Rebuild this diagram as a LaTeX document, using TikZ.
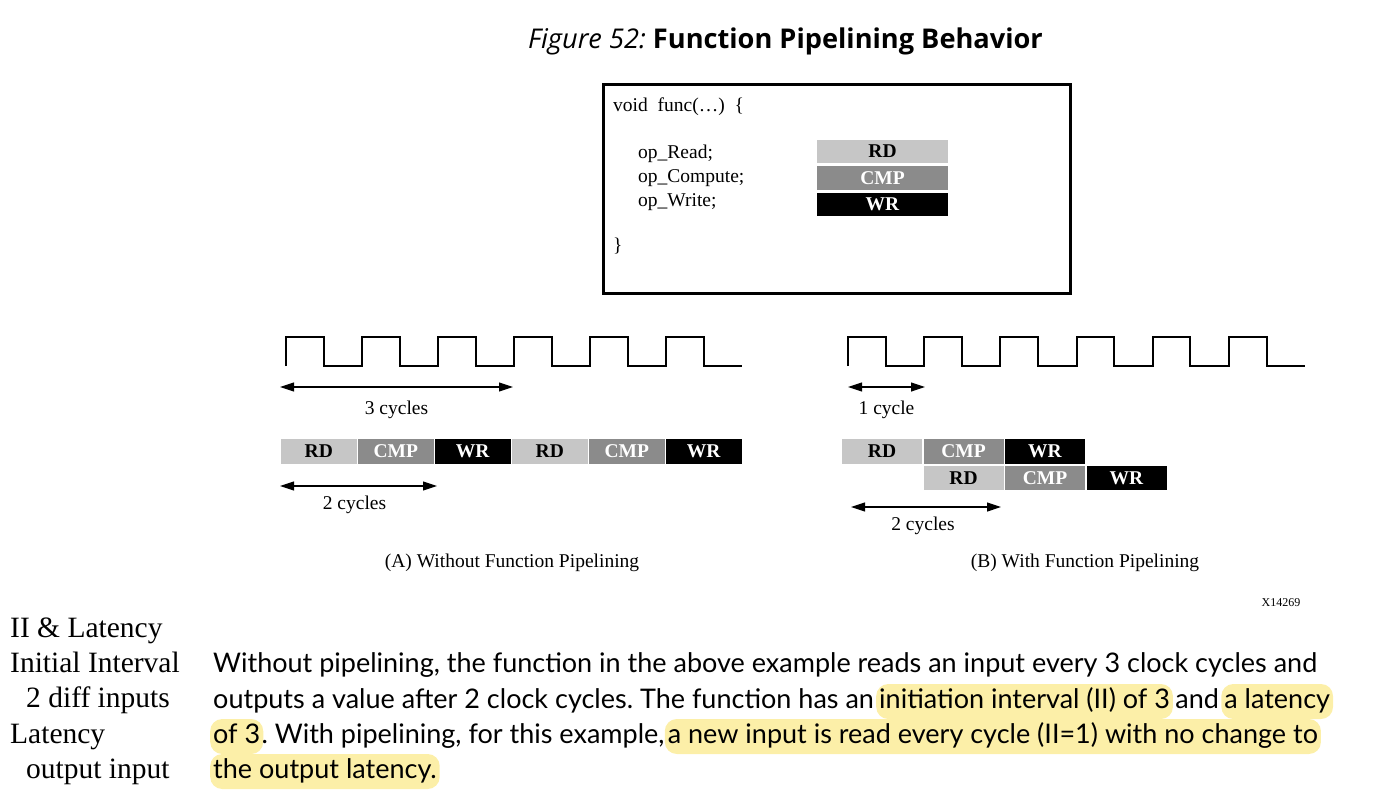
\documentclass[tikz,border=0pt]{standalone}
\usepackage{fontspec}
\setmainfont{Liberation Serif}
\newfontfamily\bodyfont{Lato}
\newfontfamily\titlefont{Open Sans}
\usetikzlibrary{arrows.meta,positioning}
\definecolor{RdGray}{HTML}{C6C6C6}
\definecolor{CmpGray}{HTML}{8B8B8B}
\definecolor{Marker}{HTML}{FCEFA8}
\frenchspacing
\tikzset{
  blk/.style={minimum height=25pt,inner sep=0pt,outer sep=0pt,font=\fontsize{19.5}{19.5}\selectfont\bfseries},
  rdblk/.style={blk,fill=RdGray,text=black},
  cmpblk/.style={blk,fill=CmpGray,text=white},
  wrblk/.style={blk,fill=black,text=white},
  dimarrow/.style={{Triangle[length=14pt,width=9pt]}-{Triangle[length=14pt,width=9pt]},line width=1.1pt},
  clk/.style={line width=2pt},
  lbl/.style={font=\fontsize{19.5}{20}\selectfont,inner sep=0pt},
  codeline/.style={anchor=base west,inner sep=0pt,font=\fontsize{19.5}{20}\selectfont},
  note/.style={anchor=base west,inner sep=0pt,font=\fontsize{29.5}{30}\selectfont},
  txt/.style={anchor=base west,inner xsep=2pt,inner ysep=4pt,text height=20pt,text depth=7pt,
    font=\bodyfont\fontsize{27}{30}\selectfont},
  hl/.style={txt,inner xsep=3pt,fill=Marker,rounded corners=12pt},
}

\begin{document}
\begin{tikzpicture}[x=1pt,y=-1pt]
  \useasboundingbox (0,0) rectangle (1378,796);

  % title
  \node[anchor=base,inner sep=0pt,font=\titlefont\fontsize{27.2}{30}\selectfont] (title) at (785.5,48)
    {\textit{Figure 52:} \textbf{Function Pipelining Behavior}};

  % code box
  \node[draw,line width=3pt,minimum width=467pt,minimum height=209pt,inner sep=0pt] (codebox) at (837,189) {};
  \node[codeline] (c1) at (613,111) {void\ \ func(…)\ \ \{};
  \node[codeline] (c2) at (638,158) {op\_Read;};
  \node[codeline] (c3) at (638,182) {op\_Compute;};
  \node[codeline] (c4) at (638,206) {op\_Write;};
  \node[codeline] (c5) at (613,251) {\}};
  \node[rdblk,minimum width=131pt,minimum height=23.5pt] (cRD) at (882.5,151.5) {RD};
  \node[cmpblk,minimum width=131pt,minimum height=23.5pt,below=3pt of cRD] (cCMP) {CMP};
  \node[wrblk,minimum width=131pt,minimum height=23.5pt,below=3pt of cCMP] (cWR) {WR};

  % (A) without pipelining
  \draw[clk] (286,366) \foreach \i in {1,...,6}{ -- ++(0,-29) -- ++(37.5,0) -- ++(0,29) -- ++(38.5,0)};
  \coordinate (a3l) at (280,387);
  \coordinate (a3r) at (513,387);
  \draw[dimarrow] (a3l) -- (a3r) node[midway,lbl,yshift=-23pt] (a3t) {3 cycles};
  \node[rdblk,minimum width=75.5pt,anchor=north west] (aRD1) at (281,439) {RD};
  \node[cmpblk,minimum width=75.5pt,right=1.5pt of aRD1] (aCMP1) {CMP};
  \node[wrblk,minimum width=75.5pt,right=1.5pt of aCMP1] (aWR1) {WR};
  \node[rdblk,minimum width=75.5pt,right=1.5pt of aWR1] (aRD2) {RD};
  \node[cmpblk,minimum width=75.5pt,right=1.5pt of aRD2] (aCMP2) {CMP};
  \node[wrblk,minimum width=75.5pt,right=1.5pt of aCMP2] (aWR2) {WR};
  \coordinate (a2l) at (280,486);
  \coordinate (a2r) at (437,486);
  \draw[dimarrow] (a2l) -- (a2r) node[midway,lbl,xshift=-4pt,yshift=-19pt] (a2t) {2 cycles};
  \node[lbl] (capA) at (512,563) {(A) Without Function Pipelining};

  % (B) with pipelining
  \draw[clk] (848,366) \foreach \i in {1,...,6}{ -- ++(0,-29) -- ++(37.5,0) -- ++(0,29) -- ++(38.7,0)};
  \coordinate (b1l) at (848,387);
  \coordinate (b1r) at (925,387);
  \draw[dimarrow] (b1l) -- (b1r) node[midway,lbl,yshift=-23pt] (b1t) {1 cycle};
  \node[rdblk,minimum width=80pt,anchor=north west] (bRD1) at (842,439) {RD};
  \node[cmpblk,minimum width=80pt,right=1.5pt of bRD1] (bCMP1) {CMP};
  \node[wrblk,minimum width=80pt,right=1.5pt of bCMP1] (bWR1) {WR};
  \node[rdblk,minimum width=80pt,minimum height=24pt,below=2pt of bCMP1] (bRD2) {RD};
  \node[cmpblk,minimum width=80pt,minimum height=24pt,right=1.5pt of bRD2] (bCMP2) {CMP};
  \node[wrblk,minimum width=80pt,minimum height=24pt,right=1.5pt of bCMP2] (bWR2) {WR};
  \coordinate (b2l) at (851,507);
  \coordinate (b2r) at (1001,507);
  \draw[dimarrow] (b2l) -- (b2r) node[midway,lbl,xshift=-3pt,yshift=-19pt] (b2t) {2 cycles};
  \node[lbl] (capB) at (1085,563) {(B) With Function Pipelining};

  \node[inner sep=0pt,font=\fontsize{12}{12}\selectfont] (xid) at (1281,603) {X14269};

  % notes on the left
  \node[note] (n1) at (10,637) {II \& Latency};
  \node[note] (n2) at (10,672) {Initial Interval};
  \node[note] (n3) at (26,707) {2 diff inputs};
  \node[note] (n4) at (10,743) {Latency};
  \node[note] (n5) at (26,778) {output input};

  % paragraph
  \node[txt] (p1) at (211,672) {Without pipelining, the function in the above example reads an input every 3 clock cycles and};
  \node[txt] (p2a) at (211,708) {outputs a value after 2 clock cycles. The function has an};
  \node[hl] (p2b) at (p2a.base east) {initiation interval (II) of 3};
  \node[txt] (p2c) at (p2b.base east) {and};
  \node[hl] (p2d) at (p2c.base east) {a latency};
  \node[hl] (p3a) at (210,743) {of 3};
  \node[txt,inner xsep=0pt,xshift=-2pt] (p3b) at (p3a.base east) {. With pipelining, for this example,\hspace{4pt}};
  \node[hl] (p3c) at (p3b.base east) {a new input is read every cycle (II=1) with no change to};
  \node[hl] (p4) at (210,778) {the output latency.};
\end{tikzpicture}
\end{document}
